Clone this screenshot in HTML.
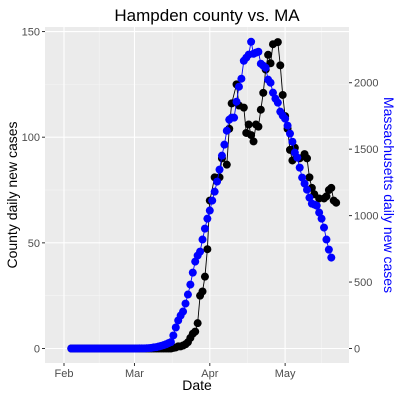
<!DOCTYPE html>
<html><head><meta charset="utf-8"><style>
body{margin:0;background:#fff}
svg{display:block;font-family:"Liberation Sans",Arial,sans-serif}
</style></head><body>
<svg id="c" width="400" height="400" xmlns="http://www.w3.org/2000/svg"></svg>
<script>
// Day offsets from Feb 1, 2020
const blueDays0 = 3;
const maCases = [0,0,0,0,0,0,0,0,0,0,0,0,0,0,0,0,0,0,0,0,0,0,0,0,0,0,0,0,1,1,1,2,3,5,8,10,15,20,25,32,40,48,
  98,158,211,248,278,338,406,481,571,654,699,729,820,902,977,1038,1113,1180,1256,1346,1451,1534,
  1639,1722,1737,1737,1857,1970,2030,2165,2188,2211,2308,2218,2226,2233,2143,2128,2113,2023,2000,1925,1880,1850,1782,1752,1729,1677,1617,1556,1474,1436,1361,1286,1241,1195,1135,1090,1083,1075,1023,977,910,820,744,684];
const countyDays = [3,4,5,6,7,8,9,10,11,12,13,14,15,16,17,18,19,20,21,22,23,24,25,26,27,28,29,30,31,32,33,34,35,36,37,38,39,40,41,42,43,44,45,46,47,48,49,50,51,
  52,53,54,55,56,57,58,59,60,62,64,65,67,68,69,71,72,74,75,76,77,78,79,80,81,82,83,84,85,86,88,89,90,91,92,93,94,95,97,99,100,101,102,103,105,107,108,109,110,111,112];
const countyCases = [0,0,0,0,0,0,0,0,0,0,0,0,0,0,0,0,0,0,0,0,0,0,0,0,0,0,0,0,0,0,0,0,0,0,0,0,0,0,0,0,0,0,0.3,0.5,1,1,1.4,2,3,
  5,7,8,12,25,27,34,47,70,81,81,90,87,104,116,125,115,114,102,106,101,98,106,105,113,121,132,139,135,144,145,134,120,110,104,94,89,95,90,92,90,81,76,73,71,71,72,75,76,70,69];
const leftTicks = [0,50,100,150];
const rightTicks = [0,500,1000,1500,2000];
const xTickDays = [0,29,60,91];
const xTickLabels = ["Feb","Mar","Apr","May"];
const ratio = 15.9;

const NS="http://www.w3.org/2000/svg";
const svg=document.getElementById('c');
const PL=45,PR=349,PT=27,PB=363;
const xs=d=>64+d*2.43;
const ys=v=>348.5-v*2.113;
const yr=m=>ys(m/ratio);
function el(t,a,p){const e=document.createElementNS(NS,t);for(const k in a)e.setAttribute(k,a[k]);(p||svg).appendChild(e);return e;}

const panel=el('rect',{x:PL,y:PT,width:PR-PL,height:PB-PT,fill:'#ebebeb'});


const grid=el('g',{});


for(let i=0;i<leftTicks.length-1;i++){const v=(leftTicks[i]+leftTicks[i+1])/2;el('line',{x1:PL,x2:PR,y1:ys(v),y2:ys(v),stroke:'#f5f5f5','stroke-width':0.6},grid);}
for(let i=0;i<xTickDays.length;i++){const a=xTickDays[i],b=i<xTickDays.length-1?xTickDays[i+1]:a+30;const v=(a+b)/2;el('line',{y1:PT,y2:PB,x1:xs(v),x2:xs(v),stroke:'#f5f5f5','stroke-width':0.6},grid);}
leftTicks.forEach(v=>el('line',{x1:PL,x2:PR,y1:ys(v),y2:ys(v),stroke:'#fff','stroke-width':1.1},grid));
xTickDays.forEach(d=>el('line',{y1:PT,y2:PB,x1:xs(d),x2:xs(d),stroke:'#fff','stroke-width':1.1},grid));

const cg=el('g',{});


el('polyline',{points:countyDays.map((d,i)=>xs(d)+','+ys(countyCases[i])).join(' '),fill:'none',stroke:'#000','stroke-width':0.9},cg);
countyDays.forEach((d,i)=>{const c=el('circle',{cx:xs(d),cy:ys(countyCases[i]),r:4,fill:'#000'},cg);

});
const bg=el('g',{});


el('polyline',{points:maCases.map((m,i)=>xs(blueDays0+i)+','+yr(m)).join(' '),fill:'none',stroke:'#0000ff','stroke-width':0.9},bg);
maCases.forEach((m,i)=>{const c=el('circle',{cx:xs(blueDays0+i),cy:yr(m),r:4,fill:'#0000ff'},bg);

});

leftTicks.forEach(v=>{el('line',{x1:PL-3,x2:PL,y1:ys(v),y2:ys(v),stroke:'#333','stroke-width':1});
const t=el('text',{x:PL-5,y:ys(v)+4,'text-anchor':'end','font-size':11,fill:'#4d4d4d'});t.textContent=v;

});
rightTicks.forEach(m=>{el('line',{x1:PR,x2:PR+3,y1:yr(m),y2:yr(m),stroke:'#333','stroke-width':1});
const t=el('text',{x:PR+5,y:yr(m)+4,'font-size':11,fill:'#4d4d4d'});t.textContent=m;

});
xTickDays.forEach((d,i)=>{el('line',{x1:xs(d),x2:xs(d),y1:PB,y2:PB+3,stroke:'#333','stroke-width':1});
const t=el('text',{x:xs(d),y:PB+14,'text-anchor':'middle','font-size':11,fill:'#4d4d4d'});t.textContent=xTickLabels[i];

});

let t=el('text',{x:207,y:21,'text-anchor':'middle','font-size':17,fill:'#000'});t.textContent='Hampden county vs. MA';


t=el('text',{x:197,y:390,'text-anchor':'middle','font-size':14,fill:'#000'});t.textContent='Date';


t=el('text',{x:0,y:0,'text-anchor':'middle','font-size':14,fill:'#000',transform:'translate(17,195) rotate(-90)'});t.textContent='County daily new cases';


t=el('text',{x:0,y:0,'text-anchor':'middle','font-size':14,fill:'#0000ff',transform:'translate(384,195) rotate(90)'});t.textContent='Massachusetts daily new cases';


</script>
</body></html>
